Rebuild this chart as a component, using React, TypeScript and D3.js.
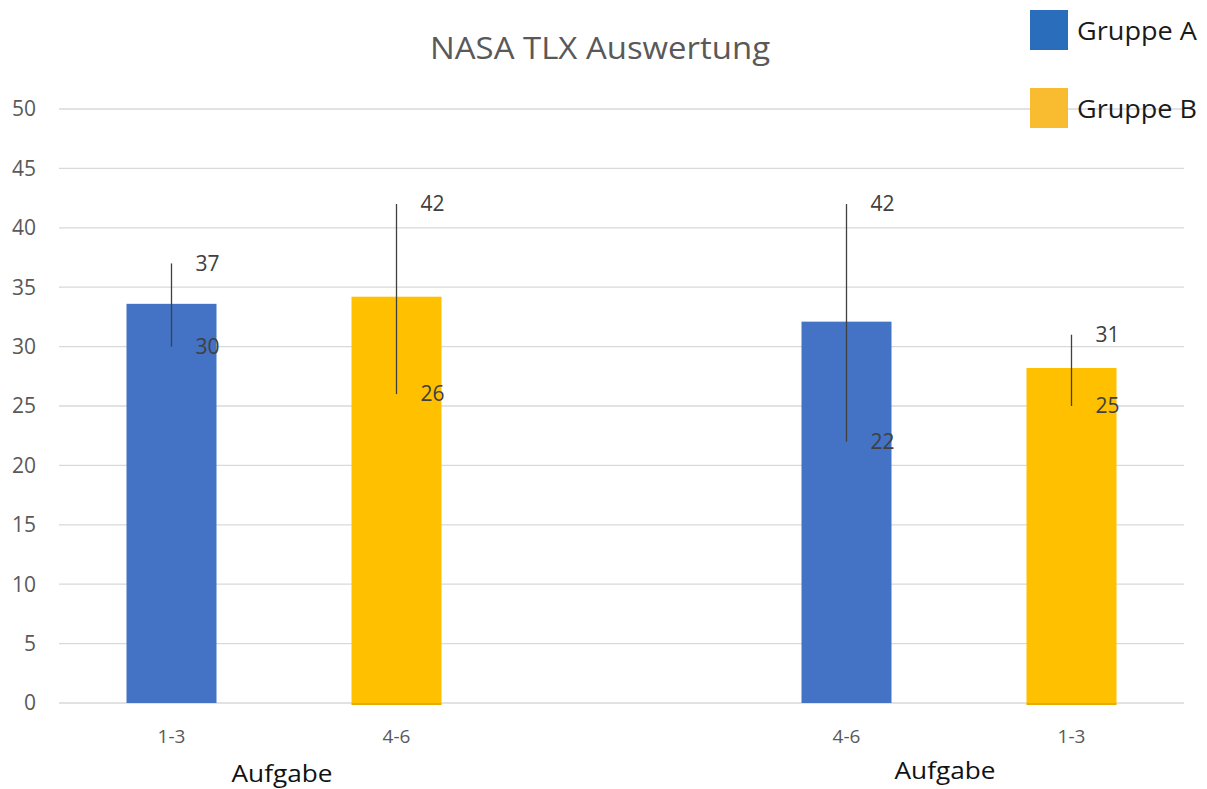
import * as d3 from "d3"

const slots = ["1-3", "4-6", "", "4-6", "1-3"]
const slotGroup = ["A", "B", "", "A", "B"]
const means = [33.6, 34.2, 0, 32.1, 28.2]
const errHigh = [37, 42, 0, 42, 31]
const errLow = [30, 26, 0, 22, 25]
const groups = ["Gruppe A", "Gruppe B"]
const yTicks = [0, 5, 10, 15, 20, 25, 30, 35, 40, 45, 50]

const W = 1207
const H = 789
const font = "'Open Sans', 'Noto Sans', sans-serif"

export default function App() {
    const x = d3.scaleBand<number>()
        .domain(d3.range(slots.length))
        .range([59, 1184])
    const y = d3.scaleLinear().domain([0, 50]).range([703, 109])
    const color = d3.scaleOrdinal<string, string>()
        .domain(["A", "B"])
        .range(["#4472C4", "#FFC000"])
    const legendColor = d3.scaleOrdinal<string, string>()
        .domain(groups)
        .range(["#2A6EBB", "#F9BC30"])

    const barW = x.bandwidth() * 0.4
    const idx = d3.range(slots.length).filter((i) => slotGroup[i] !== "")
    const mid = (i: number) => (x(i) ?? 0) + x.bandwidth() / 2

    return (
        <svg width={W} height={H} style={{ position: "absolute", left: 0, top: 0, background: "#fff" }}>
            <text x={600} y={59} textAnchor="middle" fontFamily={font} fontSize={31} fill="#595959"
                textLength={340} lengthAdjust="spacingAndGlyphs">
                NASA TLX Auswertung
            </text>

            {yTicks.map((t) => (
                <g key={t}>
                    <line x1={59} x2={1184} y1={y(t)} y2={y(t)} stroke="#d9d9d9" strokeWidth={1.3} />
                    <text x={36} y={y(t)} dy="0.35em" textAnchor="end" fontFamily={font} fontSize={21} fill="#595959">
                        {t}
                    </text>
                </g>
            ))}

            {idx.map((i) => (
                <g key={i}>
                    <rect
                        x={mid(i) - barW / 2}
                        width={barW}
                        y={y(means[i])}
                        height={y(0) - y(means[i])}
                        fill={color(slotGroup[i])}
                    />
                    {slotGroup[i] === "B" && (
                        <rect x={mid(i) - barW / 2} width={barW} y={y(0)} height={2} fill="#E6AC00" />
                    )}
                    <line x1={mid(i)} x2={mid(i)} y1={y(errHigh[i])} y2={y(errLow[i])} stroke="#404040" strokeWidth={1.3} />
                    <text x={mid(i) + 24} y={y(errHigh[i])} dy="0.35em" fontFamily={font} fontSize={21} fill="#404040">
                        {errHigh[i]}
                    </text>
                    <text x={mid(i) + 24} y={y(errLow[i])} dy="0.35em" fontFamily={font} fontSize={21} fill="#404040">
                        {errLow[i]}
                    </text>
                    <text x={mid(i)} y={743} textAnchor="middle" fontFamily={font} fontSize={19} fill="#595959">
                        {slots[i]}
                    </text>
                </g>
            ))}

            <text x={(mid(0) + mid(1)) / 2 - 2} y={782} textAnchor="middle" fontFamily={font} fontSize={24} fill="#111"
                textLength={101} lengthAdjust="spacingAndGlyphs">
                Aufgabe
            </text>
            <text x={(mid(3) + mid(4)) / 2 - 14} y={779} textAnchor="middle" fontFamily={font} fontSize={24} fill="#111"
                textLength={101} lengthAdjust="spacingAndGlyphs">
                Aufgabe
            </text>

            {groups.map((g, k) => (
                <g key={g} transform={`translate(1030, ${10 + k * 78})`}>
                    <rect width={38} height={40} fill={legendColor(g)} />
                    <text x={47} y={30} fontFamily={font} fontSize={25} fill="#1a1a1a"
                        textLength={120} lengthAdjust="spacingAndGlyphs">
                        {g}
                    </text>
                </g>
            ))}
        </svg>
    )
}
